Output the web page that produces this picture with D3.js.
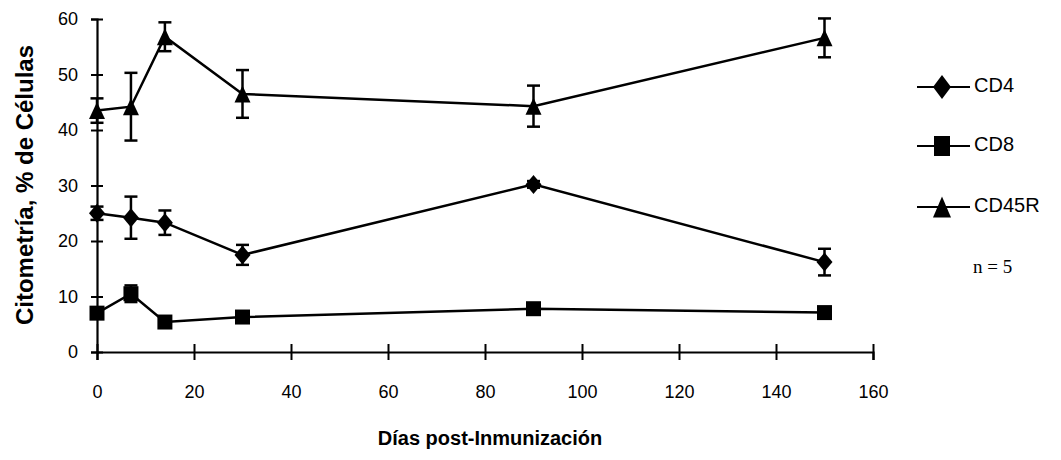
<!DOCTYPE html>
<html>
<head>
<meta charset="utf-8">
<script src="https://cdn.jsdelivr.net/npm/d3@7"></script>
<style>
    body { margin: 0; background: #fff; }
    svg { display: block; font-family: "Liberation Sans", Arial, sans-serif; }
</style>
</head>
<body>
<div id="chart"></div>
<script>
// values (days post immunisation, mean % and SD)
const days = [0, 7, 14, 30, 90, 150]
const cd4Mean = [25, 24.2, 23.3, 17.5, 30.2, 16.2]
const cd4Sd = [1.2, 3.8, 2.2, 1.8, 0.6, 2.4]
const cd8Mean = [7, 10.5, 5.4, 6.3, 7.8, 7.1]
const cd8Sd = [0.5, 1.5, 0.6, 0.5, 0.6, 0.7]
const cd45rMean = [43.5, 44.2, 56.8, 46.5, 44.3, 56.6]
const cd45rSd = [2.2, 6.1, 2.6, 4.3, 3.7, 3.5]

const seriesNames = ["CD4", "CD8", "CD45R"]
const seriesShapes = ["diamond", "square", "triangle"]
const xTickValues = [0, 20, 40, 60, 80, 100, 120, 140, 160]
const yTickValues = [0, 10, 20, 30, 40, 50, 60]

const series = [
    { name: seriesNames[0], shape: seriesShapes[0], mean: cd4Mean, sd: cd4Sd },
    { name: seriesNames[1], shape: seriesShapes[1], mean: cd8Mean, sd: cd8Sd },
    { name: seriesNames[2], shape: seriesShapes[2], mean: cd45rMean, sd: cd45rSd }
]

function markerPath(shape, w, h) {
    const p = d3.path()
    if (shape == "diamond") {
        p.moveTo(0, -h / 2); p.lineTo(w / 2, 0); p.lineTo(0, h / 2); p.lineTo(-w / 2, 0); p.closePath()
    } else if (shape == "square") {
        p.rect(-w / 2, -h / 2, w, h)
    } else {
        p.moveTo(0, -h / 2); p.lineTo(w / 2, h / 2); p.lineTo(-w / 2, h / 2); p.closePath()
    }
    return p.toString()
}

const markerSize = { diamond: [16, 19], square: [15, 15], triangle: [16, 17] }
const legendSize = { diamond: [18, 24], square: [16, 20], triangle: [18, 21] }

width = 1061
height = 460

var svg = d3.select("#chart")
    .append("svg")
    .attr("width", width)
    .attr("height", height)

var xScale = d3.scaleLinear().domain([0, 160]).range([97, 873])
var yScale = d3.scaleLinear().domain([0, 60]).range([352, 19])

// x axis, ticks crossing the line
var xAxis = svg.append("g")
    .attr("transform", `translate(0,${yScale(0)})`)
    .call(d3.axisBottom(xScale).tickValues(xTickValues).tickSizeOuter(0).tickSize(8))
xAxis.select(".domain").attr("stroke-width", 2.2).attr("stroke", "#000")
xAxis.selectAll(".tick line").attr("y1", -8).attr("y2", 8).attr("stroke-width", 2).attr("stroke", "#000")
xAxis.selectAll(".tick text").attr("y", 33).attr("font-size", 18).attr("fill", "#000")

// y axis
var yAxis = svg.append("g")
    .attr("transform", `translate(${xScale(0)},0)`)
    .call(d3.axisLeft(yScale).tickValues(yTickValues).tickSizeOuter(0).tickSize(6))
yAxis.select(".domain").attr("stroke-width", 2.2).attr("stroke", "#000")
yAxis.selectAll(".tick line").attr("x1", -6).attr("x2", 6).attr("stroke-width", 2).attr("stroke", "#000")
yAxis.selectAll(".tick text").attr("x", -19).attr("font-size", 18).attr("fill", "#000")

// error bars
series.forEach(s => {
    var g = svg.append("g").attr("stroke", "#000").attr("stroke-width", 2.5)
    g.selectAll("line.v")
        .data(days)
        .enter().append("line")
        .attr("x1", d => xScale(d)).attr("x2", d => xScale(d))
        .attr("y1", (d, i) => yScale(s.mean[i] + s.sd[i]))
        .attr("y2", (d, i) => yScale(s.mean[i] - s.sd[i]))
    ;[1, -1].forEach(sign => {
        g.selectAll(null)
            .data(days)
            .enter().append("line")
            .attr("x1", d => xScale(d) - 6.5).attr("x2", d => xScale(d) + 6.5)
            .attr("y1", (d, i) => yScale(s.mean[i] + sign * s.sd[i]))
            .attr("y2", (d, i) => yScale(s.mean[i] + sign * s.sd[i]))
    })
})

// connecting lines
var line = d3.line()
    .x(d => xScale(d[0]))
    .y(d => yScale(d[1]))

series.forEach(s => {
    svg.append("path")
        .datum(days.map((d, i) => [d, s.mean[i]]))
        .attr("fill", "none")
        .attr("stroke", "#000")
        .attr("stroke-width", 2.5)
        .attr("d", line)

    svg.append("g")
        .selectAll("path")
        .data(days)
        .enter().append("path")
        .attr("transform", (d, i) => `translate(${xScale(d)},${yScale(s.mean[i])})`)
        .attr("d", markerPath(s.shape, markerSize[s.shape][0], markerSize[s.shape][1]))
        .attr("fill", "#000")
})

// axis titles
svg.append("text")
    .attr("x", 490)
    .attr("y", 445)
    .attr("text-anchor", "middle")
    .attr("font-size", 20)
    .attr("font-weight", "bold")
    .text("Días post-Inmunización")

svg.append("text")
    .attr("transform", "translate(33,185) rotate(-90)")
    .attr("text-anchor", "middle")
    .attr("font-size", 24)
    .attr("font-weight", "bold")
    .text("Citometría, % de Células")

// legend
const legendRows = [87, 146, 207]
var legend = svg.append("g")
series.forEach((s, i) => {
    var row = legend.append("g").attr("transform", `translate(0,${legendRows[i]})`)
    row.append("line")
        .attr("x1", 917).attr("x2", 970)
        .attr("stroke", "#000").attr("stroke-width", 2)
    row.append("path")
        .attr("transform", "translate(942,0)")
        .attr("d", markerPath(s.shape, legendSize[s.shape][0], legendSize[s.shape][1]))
        .attr("fill", "#000")
    row.append("text")
        .attr("x", 974)
        .attr("y", 5)
        .attr("font-size", 20)
        .text(s.name)
})

svg.append("text")
    .attr("x", 973)
    .attr("y", 273)
    .attr("font-family", "'Liberation Serif', 'Times New Roman', serif")
    .attr("font-size", 19)
    .text("n = 5")
</script>
</body>
</html>
